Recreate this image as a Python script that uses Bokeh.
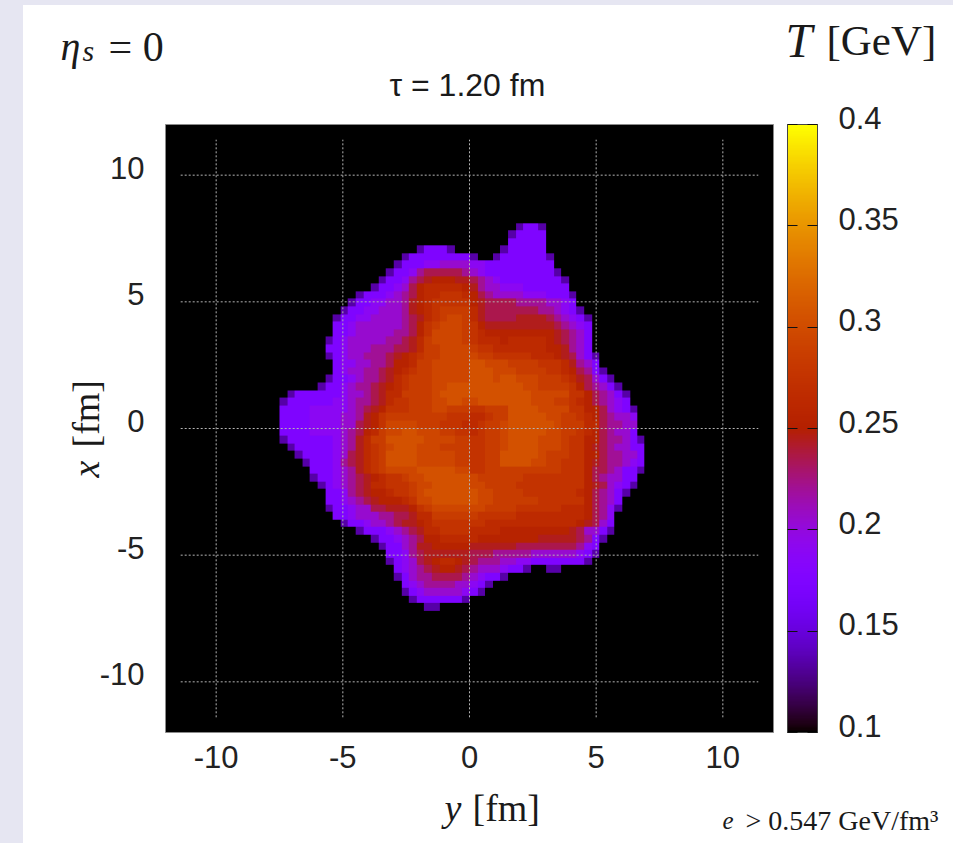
import math
import numpy as np
from bokeh.plotting import figure
from bokeh.layouts import column
from bokeh.models import (Range1d, LinearAxis, FixedTicker, LinearColorMapper, ColorBar, Label)
from bokeh.embed import file_html
from bokeh.resources import INLINE

# --- data -------------------------------------------------------------------
LEVELS = {"d": 0.135, "a": 0.175, "b": 0.19, "c": 0.205, "e": 0.22, "f": 0.235, "g": 0.245,
          "h": 0.255, "i": 0.265, "j": 0.275, "k": 0.285, "l": 0.295, "m": 0.305}
CELL = 0.3            # fm
Y_LEFT = -7.5         # fm, left edge of first column
X_TOP = 8.1           # fm, top edge of first row
T_ROWS = [
 "...... ...... ...... ...... ...... .daad. ...... ......",
 "...... ...... ...... ...... ...... daaaa. ...... ......",
 "...... ...... ...... ...... ...... aaaaa. ...... ......",
 "...... ...... ...... daaad. .....d aaaaa. ...... ......",
 "...... ...... ....da aaaaaa ad..da aaaaad ...... ......",
 "...... ...... ...daa abbccc cbbaaa aaaaaa ...... ......",
 "...... ...... ..daab efffff ecbaaa aaaaaa d..... ......",
 "...... ...... .daabe fghhhg gfecba aaaaaa ad.... ......",
 "...... ...... daabcf hiiiii hgeccb bbaaaa aa.... ......",
 "...... ....da aabcef hiijjj ihfecc ccbbba aad... ......",
 "...... ...daa bbcceg hijjjj jhgfff feeeec cba... ......",
 "...... ..daab bccceg hijkkk kigfff ffffee cbad.. ......",
 "...... .daabb ccccef gijkll kigfff fggggf ecbad. ......",
 "...... .aabcc ccccef hjklll kjhggg gggggg fecba. ......",
 "...... .aabcc ccceef hjllll kjihhh hhhhhh gfeca. ......",
 "...... dabccc cceefg ikllll kjiiih iiiiih gfeca. ......",
 "...... aabccc eeeffg ikklll lkjjii iiiiih hgeca. ......",
 "...... dabcce eefghi jkklll llkkjj jjjiii hgfcad ......",
 "...... .abbcc eefhhi kkllll lmmlll kkkkjj jigeca ......",
 "...... .abcce efghij kkllll lmmmll lkkkkj jihfea d.....",
 "...... daabce efgijk kkllll lmmmlm mlllkk kjigfc ad....",
 ".....d aabcee fghijk kkllmm mmmmmm mmllkk kkjhfe cad...",
 ".daaaa aabcce fgiikk kklmmm mmmmmm mmmlll lljjhf ecad..",
 "daaaaa abbcee fgijjk kkllmm llmmmm mmmlll kkjihf ecba..",
 "aaaabb bbbcef ghjjjk kkllkk kjjkkk mmmmll lljjhh fcbad.",
 "aaaabb bbcceg hjkkkk kkkkjj jiijkk mmmmml lkkjih feccb.",
 "aaaabb bbccfg hjllll kkkjjj iijkkl mmmmmm lkkkii feecc.",
 "aaaabb bbcefh ikllmm lllkkj jijkkl mmmmml lkkjih fecca.",
 "daaaaa abcegi kkmmmm mllllk kjjkkl mmmmll lkjjhh feecad",
 ".daaaa abcegi jklmmm lllkkk kjjkkl mmmmll lkjjhg feccaa",
 "..daaa abcfgi jkmmmm lllllk kjjkkm mmmmlk kkjjhh feecca",
 "...daa abefgi jkmmmm lllllk kjjkkm mmmllk kjjjhg feecba",
 "....aa abcegi jkllll mmmmml ljjkkk kkkkkk kjjjhf fecaad",
 "....da abcefg hijjkl lmmmmm mlkkkk kkjjjj jjjjhf eccaa.",
 ".....d abcefg iijjjk llmmmm mllkkk kjjjjj jjjjhg fcbad.",
 "...... aabefg hhijjk lmmmmm mmllkk kkjjjj jjjihf ecad..",
 "...... aabcef ghhhij llmmmm mmllkk kkkkjj jjjjhf eca...",
 "...... daabcc ffgggh jkllll lllkkk kjjjjj jiiihf ebd...",
 "...... .aabcc ceeffg iikkkk kkjjjj jiiiii iiiihf eb....",
 "...... ..daab ccefgg hijjjj jjjiii iiiiii iiihgf ca....",
 "...... ....da aabcef giijjj jiiiih hhhhhh hhgfcc ad....",
 "...... ...... daabce fhhiii iihhhh hhhhgg gggfea d.....",
 "...... ...... .daace gghhhh hggggg gfffff fffeba ......",
 "...... ...... ..aabe fggggg gfffee eeeccc cccbad ......",
 "...... ...... ..dabc fghiih gfeeec cbbaaa aaaad. ......",
 "...... ...... ...abc efghhg fecccb aad..d d..... ......",
 "...... ...... ...dac eeffff ecbaad ...... ...... ......",
 "...... ...... ....ab ceeeec cbad.. ...... ...... ......",
 "...... ...... ....da bccccc bad... ...... ...... ......",
 "...... ...... .....d aaaaaa d..... ...... ...... ......",
 "...... ...... ...... .dd... ...... ...... ...... ......",
]
AXIS_TICKS = [-10, -5, 0, 5, 10]
AXIS_TICK_LABELS = ["-10", "-5", "0", "5", "10"]
GRID_START, GRID_END = -11.4, 11.4
CBAR_TICKS = [0.1, 0.15, 0.2, 0.25, 0.3, 0.35, 0.4]
CBAR_TICK_LABELS = ["0.1", "0.15", "0.2", "0.25", "0.3", "0.35", "0.4"]
T_MIN, T_MAX = 0.1, 0.4

# --- grid ---------------------------------------------------------------------
rows = [r.replace(" ", "") for r in T_ROWS]
T = np.array([[LEVELS.get(c, np.nan) for c in r] for r in rows], dtype=float)
n_rows, n_cols = T.shape

# gnuplot's default pm3d palette (rgbformulae 7,5,15)
def pm3d(x):
    r = math.sqrt(x); g = x ** 3; b = max(0.0, math.sin(2 * math.pi * x))
    return "#%02x%02x%02x" % (round(r * 255), round(g * 255), round(b * 255))
palette = [pm3d(i / 255) for i in range(256)]
mapper = LinearColorMapper(palette=palette, low=T_MIN, high=T_MAX, nan_color="#000000")

W, H = 953, 843
FL, FR, FT, FB = 165, 773, 124, 732   # frame edges in page pixels
p = figure(width=W, height=H, output_backend="svg", toolbar_location=None,
           x_range=Range1d(-12, 12), y_range=Range1d(-12, 12),
           x_axis_location=None, y_axis_location=None,
           min_border_left=FL, min_border_right=W - FR, min_border_top=FT, min_border_bottom=H - FB,
           background_fill_color="#000000", border_fill_color=None,
           outline_line_color="#8a8a8a", outline_line_width=1, frame_align=False)
p.grid.visible = False

p.image(image=[np.flipud(T)], x=Y_LEFT, y=X_TOP - n_rows * CELL, dw=n_cols * CELL, dh=n_rows * CELL,
        color_mapper=mapper)

# tick labels sit a little above their ticks in the original: axis on a shifted range
LBL_FONT = "Liberation Sans"
LBL_SIZE = 31
p.extra_y_ranges["ylab"] = Range1d(-12 - 0.29, 12 - 0.29)

def style(ax, standoff):
    ax.major_label_text_font = LBL_FONT
    ax.major_label_text_font_size = f"{LBL_SIZE}px"
    ax.major_label_text_color = "#222222"
    ax.major_label_standoff = standoff
    ax.axis_line_color = None
    ax.major_tick_line_color = None
    ax.minor_tick_line_color = None
    ax.major_tick_in = 0
    ax.major_tick_out = 0

xax = LinearAxis(ticker=FixedTicker(ticks=AXIS_TICKS),
                 major_label_overrides=dict(zip(AXIS_TICKS, AXIS_TICK_LABELS)))
style(xax, 13)
p.add_layout(xax, "below")
yax = LinearAxis(y_range_name="ylab", ticker=FixedTicker(ticks=AXIS_TICKS),
                 major_label_overrides=dict(zip(AXIS_TICKS, AXIS_TICK_LABELS)))
style(yax, 21)
p.add_layout(yax, "left")

cb = ColorBar(color_mapper=mapper, location=(622, 0), width=30, height=608, padding=0, margin=0,
              ticker=FixedTicker(ticks=CBAR_TICKS), major_label_text_font_size="1px",
              major_label_text_alpha=0, major_label_overrides={v: "" for v in CBAR_TICKS},
              major_tick_in=30, major_tick_out=0, major_tick_line_color="#111111",
              major_tick_line_dash="10 10", major_tick_line_width=1,
              minor_tick_line_color=None, bar_line_color="#444444", bar_line_width=1,
              background_fill_color=None, border_line_color=None)
p.add_layout(cb, "center")

# transparent layer over the whole page, in page pixels, for grid and free-standing texts
top = figure(width=W, height=H, output_backend="svg", toolbar_location=None,
             x_range=Range1d(0, W), y_range=Range1d(H, 0),
             x_axis_location=None, y_axis_location=None, min_border=0,
             background_fill_color=None, border_fill_color=None, outline_line_color=None,
             margin=(-H, 0, 0, 0), frame_align=False)
top.grid.visible = False

# dotted grid stopping short of the frame, above the image
def sx(v):
    return FL + (v + 12) / 24 * (FR - FL)
def sy(v):
    return FB - (v + 12) / 24 * (FB - FT)
n = len(AXIS_TICKS)
grid_kw = dict(line_color="#b4b4b4", line_width=1, line_dash="2 2")
top.segment(x0=[sx(v) for v in AXIS_TICKS], x1=[sx(v) for v in AXIS_TICKS],
            y0=[sy(GRID_START)] * n, y1=[sy(GRID_END)] * n, **grid_kw)
top.segment(x0=[sx(GRID_START)] * n, x1=[sx(GRID_END)] * n,
            y0=[sy(v) for v in AXIS_TICKS], y1=[sy(v) for v in AXIS_TICKS], **grid_kw)

def put(text, px, py, size, font="Liberation Serif", style="normal", angle=0.0, color="#1a1a1a"):
    top.add_layout(Label(x=px, y=py, text=text, text_font=font, text_font_size=f"{size}px",
                         text_font_style=style, text_color=color, text_baseline="alphabetic",
                         angle=angle))

# colour-bar tick labels, lifted above their ticks as in the original
for v, lab in zip(CBAR_TICKS, CBAR_TICK_LABELS):
    put(lab, 838, FB - (v - T_MIN) / (T_MAX - T_MIN) * (FB - FT) - 7, LBL_SIZE, font=LBL_FONT,
        color="#222222")

put("τ = 1.20 fm", 389, 84, 32, font="Liberation Sans")
put("η", 60, 46, 40, style="italic")
put("s", 82, 50, 30, style="italic")
put("= 0", 108, 46, 42)
put("T", 785, 40, 48, style="italic")
put("[GeV]", 826, 40, 43)
put("y", 444, 807, 38, style="italic")
put("[fm]", 472, 807, 38)
put("x", 85, 477, 38, style="italic", angle=math.pi / 2)
put("[fm]", 85, 447, 38, angle=math.pi / 2)
put("e", 722, 820, 25, style="italic")
put("> 0.547 GeV/fm³", 745, 820, 28)

html = file_html(column(p, top), INLINE)
css = ("<style>html{background:"
       "linear-gradient(#e6e6f2,#e6e6f2) 0 0/100% 5px no-repeat,"
       "linear-gradient(#e6e6f2,#e6e6f2) 0 0/23px 100% no-repeat,#ffffff}"
       "body{background:transparent;overflow:hidden}</style>")
open("out.html", "w").write(html.replace("</head>", css + "</head>", 1))
